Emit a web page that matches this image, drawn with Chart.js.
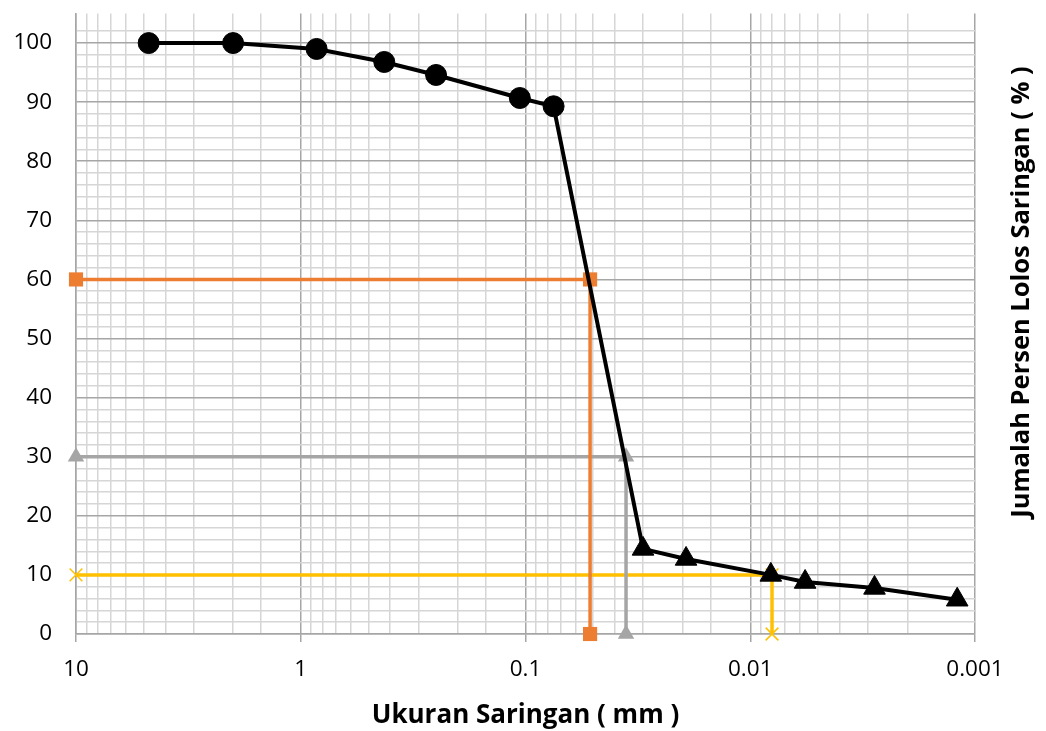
<!DOCTYPE html>
<html>
<head>
<meta charset="utf-8">
<script src="https://cdn.jsdelivr.net/npm/chart.js@4.4.1/dist/chart.umd.min.js"></script>
<style>
  html, body { margin: 0; padding: 0; background: #fff; }
  #wrap { width: 1046px; height: 731px; }
</style>
</head>
<body>
<div id="wrap"><canvas id="grading"></canvas></div>
<script>
// sieve analysis
const sieveSizes = [4.75, 2.0, 0.85, 0.425, 0.25, 0.106, 0.075];
const sievePassing = [100, 100, 99.0, 96.8, 94.6, 90.7, 89.3];

// hydrometer readings
const hydroSizes = [0.030, 0.0193, 0.0081, 0.0057, 0.0028, 0.0012];
const hydroPassing = [14.4, 12.7, 10.0, 8.8, 7.8, 5.8];

// characteristic diameters (D60, D30, D10)
const d60 = 0.0516;
const d30 = 0.0357;
const d10 = 0.0080;

const xMin = 0.001;
const xMax = 10;
const yTickLabels = [0, 10, 20, 30, 40, 50, 60, 70, 80, 90, 100];

const FONT = "'Open Sans', 'Liberation Sans', sans-serif";
const MAJOR_GRID = "#a6a6a6";
const MINOR_GRID = "#d6d6d6";

function isDecade(v) {
    const l = Math.log10(v);
    return Math.abs(l - Math.round(l)) < 1e-6;
}

function guide(d, pct) {
    return [{ x: xMax, y: pct }, { x: d, y: pct }, { x: d, y: 0 }];
}

const curve = sieveSizes.map((s, i) => ({ x: s, y: sievePassing[i] }))
    .concat(hydroSizes.map((s, i) => ({ x: s, y: hydroPassing[i] })));

const pointStyles = sieveSizes.map(() => "circle").concat(hydroSizes.map(() => "triangle"));
const pointSizes = sieveSizes.map(() => 10.5).concat(hydroSizes.map(() => 12.5));

// right-hand axis title, reading bottom to top
const sideTitle = {
    id: "sideTitle",
    afterDraw(chart) {
        const ctx = chart.ctx;
        ctx.save();
        ctx.translate(1022, 292);
        ctx.rotate(-Math.PI / 2);
        ctx.font = "bold 25.5px " + FONT;
        ctx.fillStyle = "#000";
        ctx.textAlign = "center";
        ctx.textBaseline = "middle";
        ctx.fillText("Jumalah Persen Lolos Saringan ( % )", 0, 0);
        ctx.restore();
    }
};

new Chart(document.getElementById("grading"), {
    type: "line",
    data: {
        datasets: [
            {
                data: curve,
                borderColor: "#000",
                backgroundColor: "#000",
                borderWidth: 4,
                pointStyle: pointStyles,
                pointRadius: pointSizes,
                pointBorderWidth: 1,
                clip: false,
                order: 0
            },
            {
                data: guide(d60, 60),
                borderColor: "#ed7d31",
                backgroundColor: "#ed7d31",
                borderWidth: 3.5,
                pointStyle: "rect",
                pointRadius: 10,
                pointBorderWidth: 0,
                clip: false,
                order: 1
            },
            {
                data: guide(d30, 30),
                borderColor: "#a5a5a5",
                backgroundColor: "#a5a5a5",
                borderWidth: 3.5,
                pointStyle: "triangle",
                pointRadius: 9.5,
                pointBorderWidth: 0,
                clip: false,
                order: 2
            },
            {
                data: guide(d10, 10),
                borderColor: "#ffc000",
                backgroundColor: "#ffc000",
                borderWidth: 3.5,
                pointStyle: "crossRot",
                pointRadius: 9,
                pointBorderWidth: 1.5,
                clip: false,
                order: 3
            }
        ]
    },
    options: {
        responsive: true,
        maintainAspectRatio: false,
        animation: false,
        layout: { padding: { top: 0, right: 71, left: 0, bottom: 0 } },
        plugins: {
            legend: { display: false },
            tooltip: { enabled: false }
        },
        elements: { line: { tension: 0 } },
        scales: {
            x: {
                type: "logarithmic",
                reverse: true,
                min: xMin,
                max: xMax,
                afterFit(scale) { scale.height = 97; },
                border: { color: MAJOR_GRID, width: 1.5 },
                grid: {
                    lineWidth: 1.5,
                    tickLength: 8,
                    color: (c) => isDecade(c.tick.value) ? MAJOR_GRID : MINOR_GRID,
                    tickColor: (c) => isDecade(c.tick.value) ? MAJOR_GRID : "rgba(0,0,0,0)"
                },
                ticks: {
                    autoSkip: false,
                    maxRotation: 0,
                    padding: 14,
                    color: "#000",
                    font: { family: FONT, size: 22.5 },
                    callback: (v) => isDecade(v) ? String(Number(v.toPrecision(3))) : []
                },
                title: {
                    display: true,
                    text: "Ukuran Saringan ( mm )",
                    color: "#000",
                    font: { family: FONT, size: 26, weight: "bold" },
                    padding: { top: 4, bottom: 0 }
                }
            },
            y: {
                min: 0,
                max: 105,
                afterFit(scale) {
                    scale.width = 76;
                    scale.paddingTop = 13;
                },
                border: { color: MAJOR_GRID, width: 1.5 },
                grid: {
                    lineWidth: 1.5,
                    drawTicks: false,
                    color: (c) => {
                        const v = c.tick.value;
                        if (v % 2 !== 0) return "rgba(0,0,0,0)";
                        return yTickLabels.includes(v) ? MAJOR_GRID : MINOR_GRID;
                    }
                },
                ticks: {
                    stepSize: 2,
                    autoSkip: false,
                    padding: 24,
                    color: "#000",
                    font: { family: FONT, size: 22.5 },
                    callback: (v) => yTickLabels.includes(v) ? String(v) : []
                }
            }
        }
    },
    plugins: [sideTitle]
});
</script>
</body>
</html>
